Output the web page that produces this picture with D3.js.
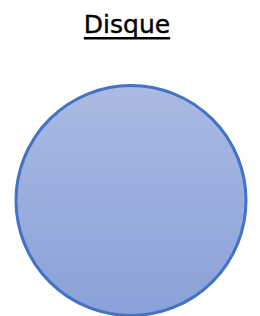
<!DOCTYPE html>
<html>
<head>
<meta charset="utf-8">
<script src="https://cdn.jsdelivr.net/npm/d3@7"></script>
<style>
  body { margin: 0; background: #fff; }
</style>
</head>
<body>
<script>
var titles = ["Disque"];
var values = [1];

var width = 260,
    height = 316;

var svg = d3.select("body").append("svg")
    .attr("width", width)
    .attr("height", height);

// gradient fill, lighter at the top
var grad = svg.append("defs").append("linearGradient")
    .attr("id", "fill")
    .attr("x1", 0).attr("y1", 0)
    .attr("x2", 0).attr("y2", 1);
grad.append("stop").attr("offset", "0%").attr("stop-color", "#aabae3");
grad.append("stop").attr("offset", "100%").attr("stop-color", "#8aa1d8");

var r = d3.scaleSqrt().domain([0, 1]).range([0, 115]);

// title
var title = svg.append("text")
    .attr("x", 127)
    .attr("y", 33)
    .attr("text-anchor", "middle")
    .style("font-family", "'Comic Sans MS', 'DejaVu Sans', sans-serif")
    .style("font-size", "25px")
    .style("fill", "#000")
    .style("stroke", "#000")
    .style("stroke-width", 0.4)
    .text(titles[0]);

var bb = title.node().getBBox();
svg.append("rect")
    .attr("x", bb.x)
    .attr("y", 37)
    .attr("width", bb.width)
    .attr("height", 2.5)
    .attr("fill", "#000");

svg.selectAll("circle").data(values).enter().append("circle")
    .attr("cx", 131)
    .attr("cy", 200.5)
    .attr("r", function(d){ return r(d); })
    .attr("fill", "url(#fill)")
    .attr("stroke", "#4472c4")
    .attr("stroke-width", 3);
</script>
</body>
</html>
